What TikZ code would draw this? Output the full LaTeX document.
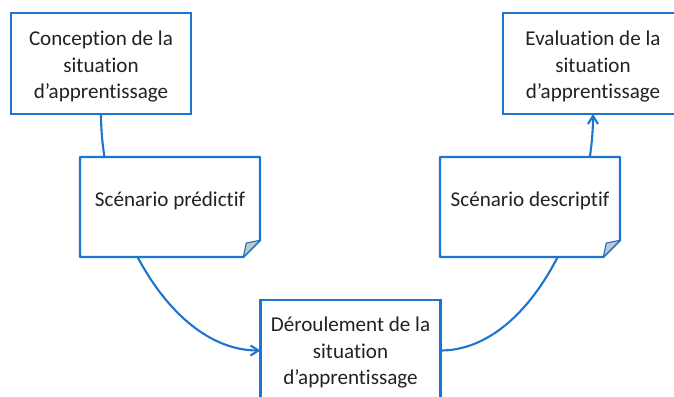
\documentclass[tikz,border=0pt]{standalone}
\usepackage{fontspec}
\setmainfont{Carlito}[Ligatures=CommonOff]
\usetikzlibrary{arrows.meta}
\definecolor{boxblue}{HTML}{1C75CE}
\definecolor{foldgrey}{HTML}{C4C8CC}
\definecolor{textgrey}{HTML}{222222}
\tikzset{
    boxtext/.style={text=textgrey,align=center,font=\fontsize{18}{22.3}\selectfont},
    stagebox/.style={draw=boxblue,line width=2pt,fill=white,minimum width=5.4cm,minimum height=3.03cm,inner sep=0pt,outer sep=0pt},
    notebox/.style={minimum width=5.4cm,minimum height=3cm,inner sep=0pt,outer sep=0pt},
    noteline/.style={draw=boxblue,line width=2pt,line join=round},
    flowline/.style={draw=boxblue,line width=1.8pt}
}
\begin{document}
\begin{tikzpicture}
    \clip (0,0) rectangle (20.22,11.88);
    \node[stagebox] (conception) at (3.03,9.975) {};
    \node[stagebox] (evaluation) at (17.79,9.975) {};
    \node[stagebox] (deroulement) at (10.515,1.365) {};
    \node[notebox] (predictif) at (5.1,5.67) {};
    \node[notebox] (descriptif) at (15.9,5.67) {};
    % the two connectors run behind the notes
    \draw[flowline,-{Straight Barb[length=2.4mm,width=3mm]}] (conception.south) .. controls +(0,-3.2) and +(-2.73,0) .. (deroulement.west);
    \draw[flowline,-{Straight Barb[length=2.4mm,width=3mm]}] (deroulement.east) .. controls +(2.7,0) and +(0,-3.0) .. (evaluation.south);
    \foreach \note in {predictif,descriptif}{
        \draw[noteline,fill=white] (\note.north west) -- (\note.north east) -- ++(0,-2.5) -- ++(-0.5,-0.5) -- (\note.south west) -- cycle;
        \draw[noteline,line width=1pt,fill=foldgrey] (\note.south east) ++(-0.5,0) -- ++(0.09,0.42) -- ++(0.41,0.08) -- cycle;
    }
    \node[boxtext] (conceptiontext) at ([yshift=-0.09cm]conception.center) {Conception de la\\situation\\d’apprentissage};
    \node[boxtext] (evaluationtext) at ([yshift=-0.09cm]evaluation.center) {Evaluation de la\\situation\\d’apprentissage};
    \node[boxtext] (deroulementtext) at ([yshift=-0.06cm]deroulement.center) {Déroulement de la\\situation\\d’apprentissage};
    \node[boxtext] (predictiftext) at ([yshift=0.18cm]predictif.center) {Scénario prédictif};
    \node[boxtext] (descriptiftext) at ([yshift=0.18cm]descriptif.center) {Scénario descriptif};
\end{tikzpicture}
\end{document}
